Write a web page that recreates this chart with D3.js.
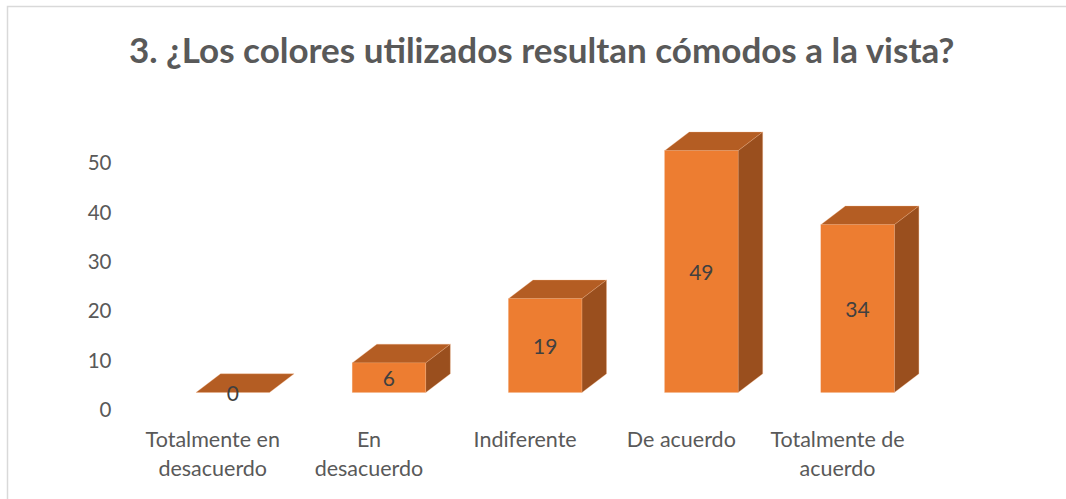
<!DOCTYPE html>
<html>
<head>
<meta charset="utf-8">
<script src="https://cdn.jsdelivr.net/npm/d3@7"></script>
<style>
  html, body { margin: 0; padding: 0; background: #fff; }
  svg { display: block; }
  text { font-family: Lato, "Open Sans", sans-serif; }
</style>
</head>
<body>
<svg id="chart" width="1066" height="499"></svg>
<script>
const title = "3. ¿Los colores utilizados resultan cómodos a la vista?";
const categories = ["Totalmente en desacuerdo", "En desacuerdo", "Indiferente", "De acuerdo", "Totalmente de acuerdo"];
const categoryLines = [["Totalmente en", "desacuerdo"], ["En", "desacuerdo"], ["Indiferente"], ["De acuerdo"], ["Totalmente de", "acuerdo"]];
const values = [0, 6, 19, 49, 34];
const yTicks = [0, 10, 20, 30, 40, 50];

const svg = d3.select("#chart");
const W = 1066, H = 499;

// frame
svg.append("path")
  .attr("d", `M7.5,${H} V6.5 H${W}`)
  .attr("fill", "none").attr("stroke", "#d9d9d9").attr("stroke-width", 1.5);

// title
svg.append("text")
  .attr("x", 541.7).attr("y", 63)
  .attr("text-anchor", "middle")
  .attr("font-size", 35).attr("font-weight", "bold")
  .attr("fill", "#595959")
  .text(title);

// scales
const x = d3.scaleBand().domain(categories).range([154.65, 935.65])
  .paddingInner(0.5294).paddingOuter(0.2647);
const yAxisScale = d3.scaleLinear().domain([0, 50]).range([410, 163.3]);
const floorShift = 17.5;   // front face of the bars sits above the axis labels' baseline
const labelShift = 20;     // category labels sit left of the bar front centres
const depthX = 24.6, depthY = -18.7;

// y axis
const yAxis = d3.axisLeft(yAxisScale).tickValues(yTicks).tickSize(0).tickPadding(0);
const gy = svg.append("g").attr("transform", "translate(111.5,0)").call(yAxis);
gy.select(".domain").remove();
gy.selectAll("text").attr("font-size", 20.5).attr("fill", "#595959")
  .attr("font-family", "Lato, 'Open Sans', sans-serif");

// bars
const colFront = "#ED7D31", colTop = "#B45D23", colSide = "#9A4F1E";
const bars = svg.append("g");
categories.forEach((c, i) => {
  const v = values[i];
  const x0 = x(c), x1 = x0 + x.bandwidth();
  const yb = yAxisScale(0) - floorShift;
  const yt = yAxisScale(v) - floorShift;
  const g = bars.append("g");
  // top face
  g.append("path")
    .attr("d", `M${x0},${yt} L${x0 + depthX},${yt + depthY} L${x1 + depthX},${yt + depthY} L${x1},${yt} Z`)
    .attr("fill", colTop).attr("stroke", "#F4B183").attr("stroke-width", 0.5).attr("stroke-opacity", 0.6);
  if (v > 0) {
    // side face
    g.append("path")
      .attr("d", `M${x1},${yt} L${x1 + depthX},${yt + depthY} L${x1 + depthX},${yb + depthY} L${x1},${yb} Z`)
      .attr("fill", colSide).attr("stroke", "#F4B183").attr("stroke-width", 0.5).attr("stroke-opacity", 0.6);
    // front face
    g.append("rect")
      .attr("x", x0).attr("y", yt).attr("width", x1 - x0).attr("height", yb - yt)
      .attr("fill", colFront).attr("stroke", "#F4B183").attr("stroke-width", 0.5).attr("stroke-opacity", 0.6);
  }
});

// data labels
svg.append("g").selectAll("text").data(values).join("text")
  .attr("x", (d, i) => x(categories[i]) + x.bandwidth() / 2)
  .attr("y", d => (yAxisScale(0) + yAxisScale(d)) / 2 - floorShift + 8)
  .attr("text-anchor", "middle")
  .attr("font-size", 21).attr("fill", "#404040")
  .text(d => d);

// category labels
const gx = svg.append("g");
categories.forEach((c, i) => {
  const cx = x(c) + x.bandwidth() / 2 - labelShift;
  const t = gx.append("text")
    .attr("x", cx)
    .attr("y", 447.3)
    .attr("text-anchor", "middle")
    .attr("font-size", 21.5).attr("fill", "#595959");
  categoryLines[i].forEach((line, k) => {
    t.append("tspan").attr("x", cx)
      .attr("dy", k === 0 ? 0 : 28.4).text(line);
  });
});
</script>
</body>
</html>
